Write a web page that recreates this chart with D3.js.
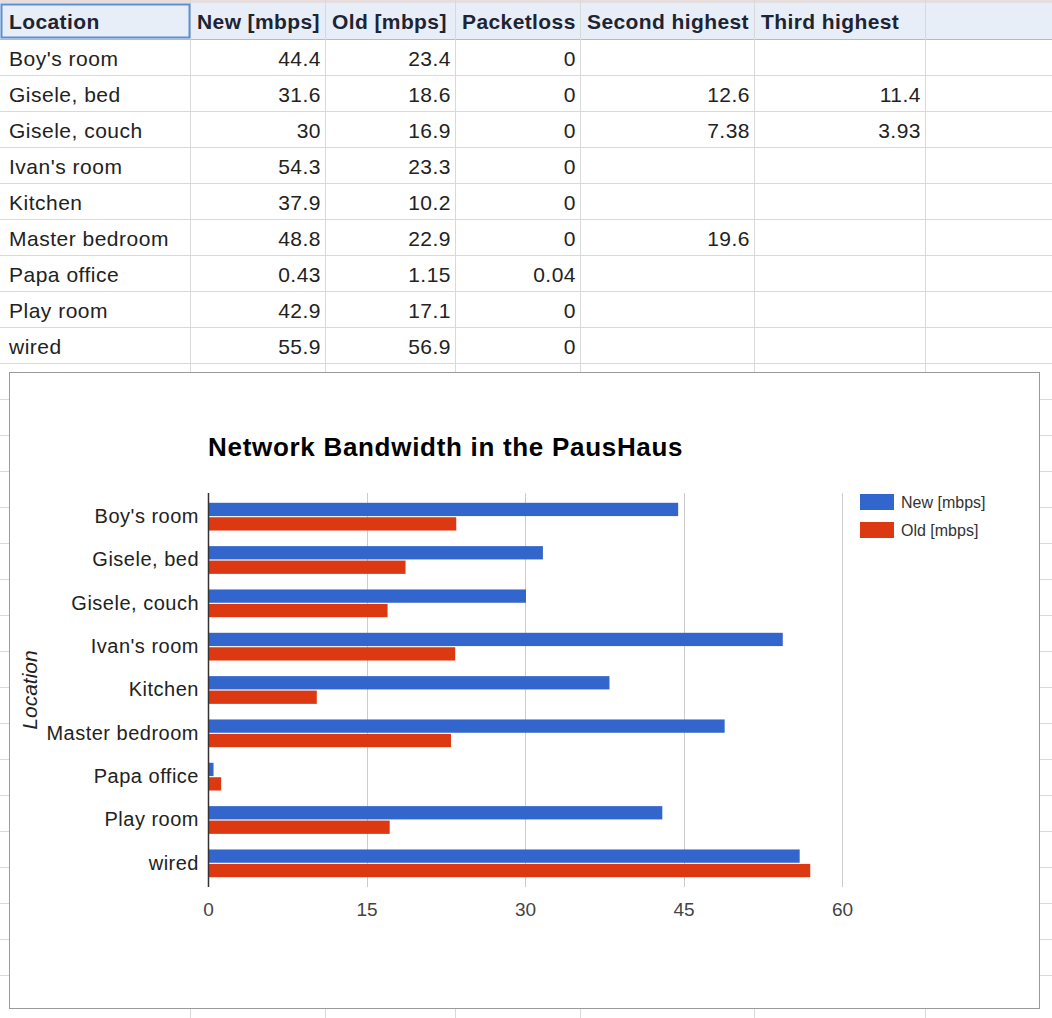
<!DOCTYPE html>
<html>
<head>
<meta charset="utf-8">
<script src="https://cdn.jsdelivr.net/npm/d3@7"></script>
<style>
  body { margin: 0; background: #fff; }
  svg { display: block; font-family: "Liberation Sans", Arial, sans-serif; }
</style>
</head>
<body>
<svg id="sheet" width="1052" height="1018"></svg>
<script>
// sheet data
var columns = ["Location", "New [mbps]", "Old [mbps]", "Packetloss", "Second highest", "Third highest"];
var locations = ["Boy's room", "Gisele, bed", "Gisele, couch", "Ivan's room", "Kitchen", "Master bedroom", "Papa office", "Play room", "wired"];
var newMbps = [44.4, 31.6, 30, 54.3, 37.9, 48.8, 0.43, 42.9, 55.9];
var oldMbps = [23.4, 18.6, 16.9, 23.3, 10.2, 22.9, 1.15, 17.1, 56.9];
var packetloss = [0, 0, 0, 0, 0, 0, 0.04, 0, 0];
var secondHighest = [null, 12.6, 7.38, null, null, 19.6, null, null, null];
var thirdHighest = [null, 11.4, 3.93, null, null, null, null, null, null];
var xTicks = [0, 15, 30, 45, 60];
var seriesNames = ["New [mbps]", "Old [mbps]"];
var seriesColors = ["#3366cc", "#dc3912"];

var svg = d3.select("#sheet");
var W = 1052, H = 1018;

// ---- spreadsheet grid ----
var colEdges = [0, 190, 325, 455, 580, 754, 925, 1052];
var rowTop = 3, rowH = 36;
var nRows = 28;

svg.append("rect").attr("x", 0).attr("y", 0).attr("width", W).attr("height", rowTop)
    .attr("fill", "#e6dede");

// header background
svg.append("rect").attr("x", 0).attr("y", rowTop).attr("width", W).attr("height", rowH)
    .attr("fill", "#e8eef8");

var grid = svg.append("g").attr("stroke", "#d9d9d9").attr("stroke-width", 1);
d3.range(1, nRows).forEach(function(i) {
    var y = rowTop + i * rowH + 0.5;
    grid.append("line").attr("x1", 0).attr("x2", W).attr("y1", y).attr("y2", y)
        .attr("stroke", i === 1 ? "#a9c0c8" : "#d9d9d9");
});
colEdges.slice(1, -1).forEach(function(x) {
    grid.append("line").attr("x1", x + 0.5).attr("x2", x + 0.5).attr("y1", 0).attr("y2", H);
});

// selected header cell
svg.append("rect").attr("x", 1.5).attr("y", rowTop + 1.5).attr("width", 188).attr("height", rowH - 3)
    .attr("fill", "none").attr("stroke", "#5b8fd6").attr("stroke-width", 2);

// clip for overflowing header text
svg.append("clipPath").attr("id", "clipSecond")
    .append("rect").attr("x", colEdges[4]).attr("y", 0).attr("width", colEdges[5] - colEdges[4]).attr("height", 40);

// header labels
var headerG = svg.append("g").attr("font-weight", "bold").attr("font-size", 21)
    .attr("letter-spacing", 0.4).attr("fill", "#1d2433");
columns.forEach(function(c, i) {
    var x = i === 0 ? 9 : colEdges[i] + 7;
    headerG.append("text").attr("x", x).attr("y", rowTop + 26).text(c)
        .attr("clip-path", i === 4 ? "url(#clipSecond)" : null);
});

var cells = svg.append("g").attr("font-size", 21).attr("letter-spacing", 0.5).attr("fill", "#222");
var numCols = [newMbps, oldMbps, packetloss, secondHighest, thirdHighest];
locations.forEach(function(loc, r) {
    var y = rowTop + (r + 1) * rowH + 27;
    cells.append("text").attr("x", 9).attr("y", y).text(loc);
    numCols.forEach(function(arr, c) {
        if (arr[r] === null) return;
        cells.append("text").attr("x", colEdges[c + 2] - 4).attr("y", y)
            .attr("text-anchor", "end").text(arr[r]);
    });
});

// ---- embedded chart ----
var box = { x: 9, y: 372, w: 1030, h: 636 };
svg.append("rect").attr("x", box.x + 0.5).attr("y", box.y + 0.5).attr("width", box.w).attr("height", box.h)
    .attr("fill", "#fff").attr("stroke", "#9a9a9a");

var plot = { left: 208, right: 842, top: 495, bottom: 885 };

var x = d3.scaleLinear().domain([0, 60]).range([plot.left, plot.right]);
var y = d3.scaleBand().domain(locations).range([plot.top, plot.bottom]).paddingInner(0.36).paddingOuter(0.18);
var ySub = d3.scaleBand().domain(seriesNames).range([0, y.bandwidth()]).paddingInner(0.08);

var chart = svg.append("g");

// title
chart.append("text").attr("x", plot.left).attr("y", 456)
    .attr("font-size", 26).attr("font-weight", "bold").attr("letter-spacing", 0.7).attr("fill", "#000")
    .text("Network Bandwidth in the PausHaus");

// gridlines
chart.append("g").selectAll("line").data(xTicks.filter(function(d) { return d > 0; })).join("line")
    .attr("x1", function(d) { return Math.round(x(d)) + 0.5; })
    .attr("x2", function(d) { return Math.round(x(d)) + 0.5; })
    .attr("y1", plot.top - 2).attr("y2", plot.bottom + 2)
    .attr("stroke", "#cccccc");

// bars
var rows = locations.map(function(loc, i) { return { loc: loc, vals: [newMbps[i], oldMbps[i]] }; });
var grp = chart.append("g").selectAll("g").data(rows).join("g")
    .attr("transform", function(d) { return "translate(0," + y(d.loc) + ")"; });
grp.selectAll("rect").data(function(d) {
        return d.vals.map(function(v, k) { return { key: seriesNames[k], v: v, k: k }; });
    }).join("rect")
    .attr("x", x(0) + 1)
    .attr("y", function(d) { return ySub(d.key); })
    .attr("width", function(d) { return x(d.v) - x(0); })
    .attr("height", ySub.bandwidth())
    .attr("fill", function(d) { return seriesColors[d.k]; });

// baseline axis
chart.append("line").attr("x1", plot.left + 0.5).attr("x2", plot.left + 0.5)
    .attr("y1", plot.top - 2).attr("y2", plot.bottom + 2)
    .attr("stroke", "#333").attr("stroke-width", 1.5);

// x tick labels
var xAxis = d3.axisBottom(x).tickValues(xTicks).tickSize(0).tickPadding(0);
var xg = chart.append("g").attr("transform", "translate(0," + (plot.bottom + 17) + ")").call(xAxis);
xg.select(".domain").remove();
xg.selectAll("text").attr("font-size", 19).attr("fill", "#444")
    .attr("font-family", "\"Liberation Sans\", Arial, sans-serif");

// category labels
var yAxis = d3.axisLeft(y).tickSize(0).tickPadding(9);
var yg = chart.append("g").attr("transform", "translate(" + plot.left + ",0)").call(yAxis);
yg.select(".domain").remove();
yg.selectAll("text").attr("font-size", 20).attr("letter-spacing", 0.5).attr("fill", "#222")
    .attr("font-family", "\"Liberation Sans\", Arial, sans-serif");

// axis title
chart.append("text").attr("transform", "translate(37,690) rotate(-90)")
    .attr("text-anchor", "middle").attr("font-size", 21).attr("font-style", "italic").attr("fill", "#222")
    .text("Location");

// legend
var legend = chart.append("g").attr("transform", "translate(860,494)");
seriesNames.forEach(function(s, i) {
    var g = legend.append("g").attr("transform", "translate(0," + (i * 28) + ")");
    g.append("rect").attr("width", 34).attr("height", 16).attr("fill", seriesColors[i]);
    g.append("text").attr("x", 41).attr("y", 14).attr("font-size", 16).attr("fill", "#333").text(s);
});
</script>
</body>
</html>
